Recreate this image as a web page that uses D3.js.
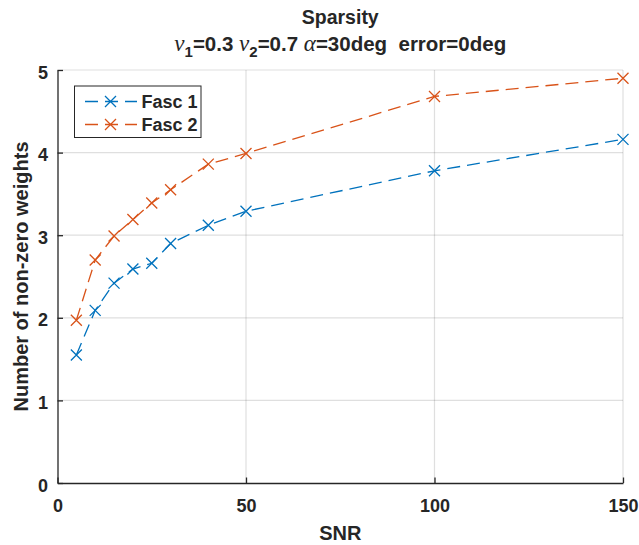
<!DOCTYPE html>
<html>
<head>
<meta charset="utf-8">
<script src="https://cdn.jsdelivr.net/npm/d3@7"></script>
<style>
  body { margin: 0; background: #fff; }
  text { font-family: "Liberation Sans", Arial, sans-serif; fill: #262626; }
</style>
</head>
<body>
<div id="chart"></div>
<script>
const snr = [5, 10, 15, 20, 25, 30, 40, 50, 100, 150];
const fasc1 = [1.55, 2.09, 2.42, 2.59, 2.66, 2.90, 3.12, 3.29, 3.78, 4.16];
const fasc2 = [1.97, 2.70, 2.99, 3.19, 3.39, 3.55, 3.86, 3.99, 4.68, 4.90];
const seriesNames = ["Fasc 1", "Fasc 2"];
const xTicks = [0, 50, 100, 150];
const yTicks = [0, 1, 2, 3, 4, 5];

let width = 639, height = 545;
let margin = {left: 57.5, right: 16, top: 70, bottom: 62};
let colors = ["#0072BD", "#D95319"];

let svg = d3.select("#chart").append("svg")
    .attr("width", width)
    .attr("height", height);

let x = d3.scaleLinear().domain([0, 150]).range([margin.left, width - margin.right]);
let y = d3.scaleLinear().domain([0, 5]).range([height - margin.bottom, margin.top]);

// grid
svg.append("g").selectAll("line").data(xTicks.slice(1)).enter().append("line")
    .attr("x1", d => x(d)).attr("x2", d => x(d))
    .attr("y1", y(0)).attr("y2", y(5))
    .attr("stroke", "#262626").attr("stroke-opacity", 0.15).attr("stroke-width", 1.2);
svg.append("g").selectAll("line").data(yTicks.slice(1)).enter().append("line")
    .attr("x1", x(0)).attr("x2", x(150))
    .attr("y1", d => y(d)).attr("y2", d => y(d))
    .attr("stroke", "#262626").attr("stroke-opacity", 0.15).attr("stroke-width", 1.2);

// axes
let xAxis = svg.append("g").attr("transform", `translate(0,${y(0)})`)
    .call(d3.axisBottom(x).tickValues(xTicks).tickFormat(d3.format("d")).tickSizeInner(-5.5).tickSizeOuter(0));
let yAxis = svg.append("g").attr("transform", `translate(${x(0)},0)`)
    .call(d3.axisLeft(y).tickValues(yTicks).tickFormat(d3.format("d")).tickSizeInner(-5.5).tickSizeOuter(0).tickPadding(9.5));
[xAxis, yAxis].forEach(a => {
    a.select(".domain").attr("stroke", "#262626").attr("stroke-width", 1.3);
    a.selectAll(".tick line").attr("stroke", "#262626").attr("stroke-width", 1.3);
    a.selectAll(".tick text").attr("font-size", 18).attr("font-weight", "bold")
        .attr("font-family", "Liberation Sans, Arial, sans-serif").attr("fill", "#262626");
});
xAxis.selectAll(".tick text").attr("dy", "0.71em").attr("y", 16);
yAxis.selectAll(".tick text").attr("dy", "0.45em");

// lines + markers
let line = d3.line().x((d, i) => x(snr[i])).y(d => y(d));
[fasc1, fasc2].forEach((vals, k) => {
    svg.append("path").datum(vals)
        .attr("d", line)
        .attr("fill", "none")
        .attr("stroke", colors[k])
        .attr("stroke-width", 1.3)
        .attr("stroke-dasharray", "13,7");
    svg.append("g").selectAll("path").data(vals).enter().append("path")
        .attr("transform", (d, i) => `translate(${x(snr[i])},${y(d)})`)
        .attr("d", "M-5.5,-5.5L5.5,5.5M-5.5,5.5L5.5,-5.5")
        .attr("stroke", colors[k])
        .attr("stroke-width", 1.3)
        .attr("fill", "none");
});

// legend
let lg = svg.append("g").attr("transform", "translate(74.5,86)");
lg.append("rect").attr("width", 126.5).attr("height", 51.5)
    .attr("fill", "#fff").attr("stroke", "#262626").attr("stroke-width", 1);
seriesNames.forEach((name, k) => {
    let yy = 15.5 + k * 23;
    lg.append("line").attr("x1", 10.5).attr("x2", 62.5).attr("y1", yy).attr("y2", yy)
        .attr("stroke", colors[k]).attr("stroke-width", 1.3).attr("stroke-dasharray", "13,7");
    lg.append("path").attr("transform", `translate(36,${yy})`)
        .attr("d", "M-5.5,-5.5L5.5,5.5M-5.5,5.5L5.5,-5.5")
        .attr("stroke", colors[k]).attr("stroke-width", 1.3);
    lg.append("text").attr("x", 67).attr("y", yy).attr("dy", "0.36em")
        .attr("font-size", 18).attr("font-weight", "bold").text(name);
});

// titles
let cx = (x(0) + x(150)) / 2;
svg.append("text").attr("x", cx).attr("y", 24).attr("text-anchor", "middle")
    .attr("font-size", 19.5).attr("font-weight", "bold").text("Sparsity");
let sub = svg.append("text").attr("x", cx).attr("y", 51).attr("text-anchor", "middle")
    .attr("font-size", 20.5).attr("font-weight", "bold");
let greek = {"font-family": "Liberation Serif, Times New Roman, serif", "font-style": "italic", "font-weight": "normal", "font-size": 23};
function addGreek(t) {
    let s = sub.append("tspan").text(t);
    Object.entries(greek).forEach(([k, v]) => s.attr(k, v));
}
addGreek("\u03bd");
sub.append("tspan").attr("font-size", 15).attr("dy", 6).text("1");
sub.append("tspan").attr("dy", -6).text("=0.3 ");
addGreek("\u03bd");
sub.append("tspan").attr("font-size", 15).attr("dy", 6).text("2");
sub.append("tspan").attr("dy", -6).text("=0.7 ");
addGreek("\u03b1");
sub.append("tspan").text("=30deg\u00a0\u00a0error=0deg");

svg.append("text").attr("x", cx).attr("y", 540).attr("text-anchor", "middle")
    .attr("font-size", 20).attr("font-weight", "bold").text("SNR");
svg.append("text").attr("transform", `translate(28,${(y(0) + y(5)) / 2}) rotate(-90)`)
    .attr("text-anchor", "middle")
    .attr("font-size", 20).attr("font-weight", "bold").text("Number of non-zero weights");
</script>
</body>
</html>
